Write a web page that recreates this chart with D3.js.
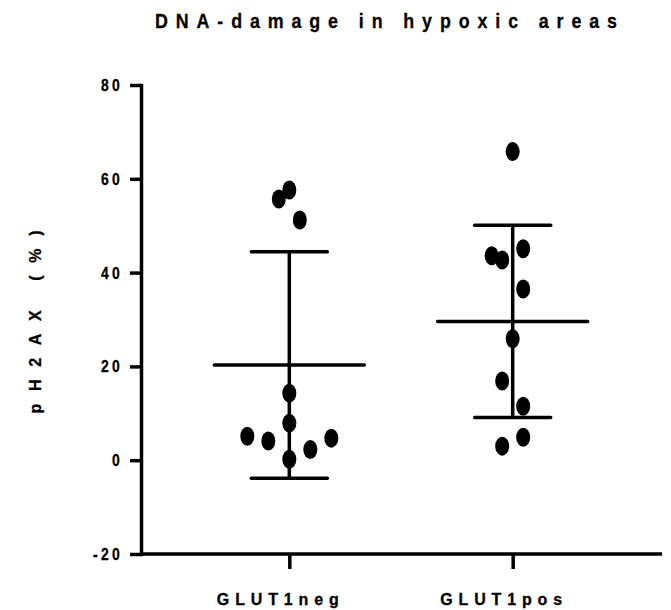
<!DOCTYPE html>
<html>
<head>
<meta charset="utf-8">
<script src="https://cdn.jsdelivr.net/npm/d3@7"></script>
<style>
  body { margin: 0; background: #fff; }
  text { font-family: "Liberation Sans Narrow", "Arial Narrow", "Liberation Sans", Arial, sans-serif; font-weight: bold; fill: #000; stroke: #000; stroke-width: 0.3px; }
</style>
</head>
<body>
<div id="chart"></div>
<script>
// groups on the x axis
const groups = ['GLUT1neg', 'GLUT1pos'];

// pH2AX (%) per sample
const glut1negValues = [55.7, 57.6, 51.2, 14.3, 7.9, 5.1, 4.1, 2.3, 4.7, 0.2];
const glut1posValues = [65.8, 43.6, 42.7, 45.1, 36.5, 25.9, 16.9, 11.5, 4.9, 3.0];

// scatter column of each dot (half dot widths, like the Prism layout)
const glut1negColumns = [-1, 0, 1, 0, 0, -4, -2, 2, 4, 0];
const glut1posColumns = [0, -2, -1, 1, 1, 0, -1, 1, 1, -1];

const yTicks = [-20, 0, 20, 40, 60, 80];

const width = 671, height = 610;

const svg = d3.select('#chart').append('svg')
    .attr('width', width)
    .attr('height', height);

const x = d3.scalePoint()
    .domain(groups)
    .range([141, 661])
    .padding(0.664);

const y = d3.scaleLinear()
    .domain([-20, 80])
    .range([554, 85]);

const colStep = 10.5;

const series = [
    { name: groups[0], values: glut1negValues, cols: glut1negColumns },
    { name: groups[1], values: glut1posValues, cols: glut1posColumns }
];

// title
svg.append('text')
    .attr('transform', 'translate(386,28) scale(0.85,1)')
    .attr('text-anchor', 'middle')
    .attr('textLength', 462 / 0.85)
    .attr('lengthAdjust', 'spacing')
    .style('font-size', '21px')
    .text('DNA-damage in hypoxic areas');

// y label
svg.append('text')
    .attr('transform', 'translate(41,322) rotate(-90)')
    .attr('text-anchor', 'middle')
    .attr('textLength', 183)
    .attr('lengthAdjust', 'spacing')
    .style('font-size', '16px')
    .text('pH2AX (%)');

// y axis
const yAxis = svg.append('g')
    .attr('transform', 'translate(141,0)')
    .call(d3.axisLeft(y).tickValues(yTicks).tickFormat(d => String(d))
        .tickSize(11).tickSizeOuter(0).tickPadding(7));
yAxis.select('.domain').attr('stroke-width', 3.5).attr('stroke-linecap', 'square');
yAxis.selectAll('.tick line').attr('stroke-width', 3.5);
yAxis.selectAll('.tick text')
    .attr('font-family', null)
    .attr('font-size', null)
    .style('font-size', '17px')
    .style('letter-spacing', '4px')
    .attr('transform', 'translate(-18,0) scale(0.82,1) translate(18,0)');

// x axis
const xAxis = svg.append('g')
    .attr('transform', 'translate(0,554)')
    .call(d3.axisBottom(x).tickSize(15).tickSizeOuter(0).tickPadding(25));
xAxis.select('.domain').attr('stroke-width', 3.5).attr('d', 'M141,0H662');
xAxis.selectAll('.tick line').attr('stroke-width', 3.5);
xAxis.selectAll('.tick text')
    .attr('font-family', null)
    .attr('font-size', null)
    .style('font-size', '16px')
    .attr('dx', -12)
    .attr('textLength', 122)
    .attr('lengthAdjust', 'spacing');

// mean and SD lines
const plot = svg.append('g');
series.forEach(s => {
    const cx = x(s.name);
    const mean = d3.mean(s.values);
    const sd = d3.deviation(s.values);
    const g = plot.append('g').attr('stroke', '#000').attr('stroke-width', 3.5);
    g.append('line')
        .attr('x1', cx).attr('x2', cx)
        .attr('y1', y(mean - sd)).attr('y2', y(mean + sd));
    [mean - sd, mean + sd].forEach(v => {
        g.append('line')
            .attr('x1', cx - 38).attr('x2', cx + 38)
            .attr('y1', y(v)).attr('y2', y(v))
            .attr('stroke-linecap', 'round');
    });
    g.append('line')
        .attr('x1', cx - 75).attr('x2', cx + 75)
        .attr('y1', y(mean)).attr('y2', y(mean))
        .attr('stroke-linecap', 'round');
});

// dots
series.forEach(s => {
    plot.selectAll(null)
        .data(s.values)
        .join('ellipse')
        .attr('cx', (d, i) => x(s.name) + s.cols[i] * colStep)
        .attr('cy', d => y(d))
        .attr('rx', 7)
        .attr('ry', 9.5)
        .attr('fill', '#000');
});
</script>
</body>
</html>
